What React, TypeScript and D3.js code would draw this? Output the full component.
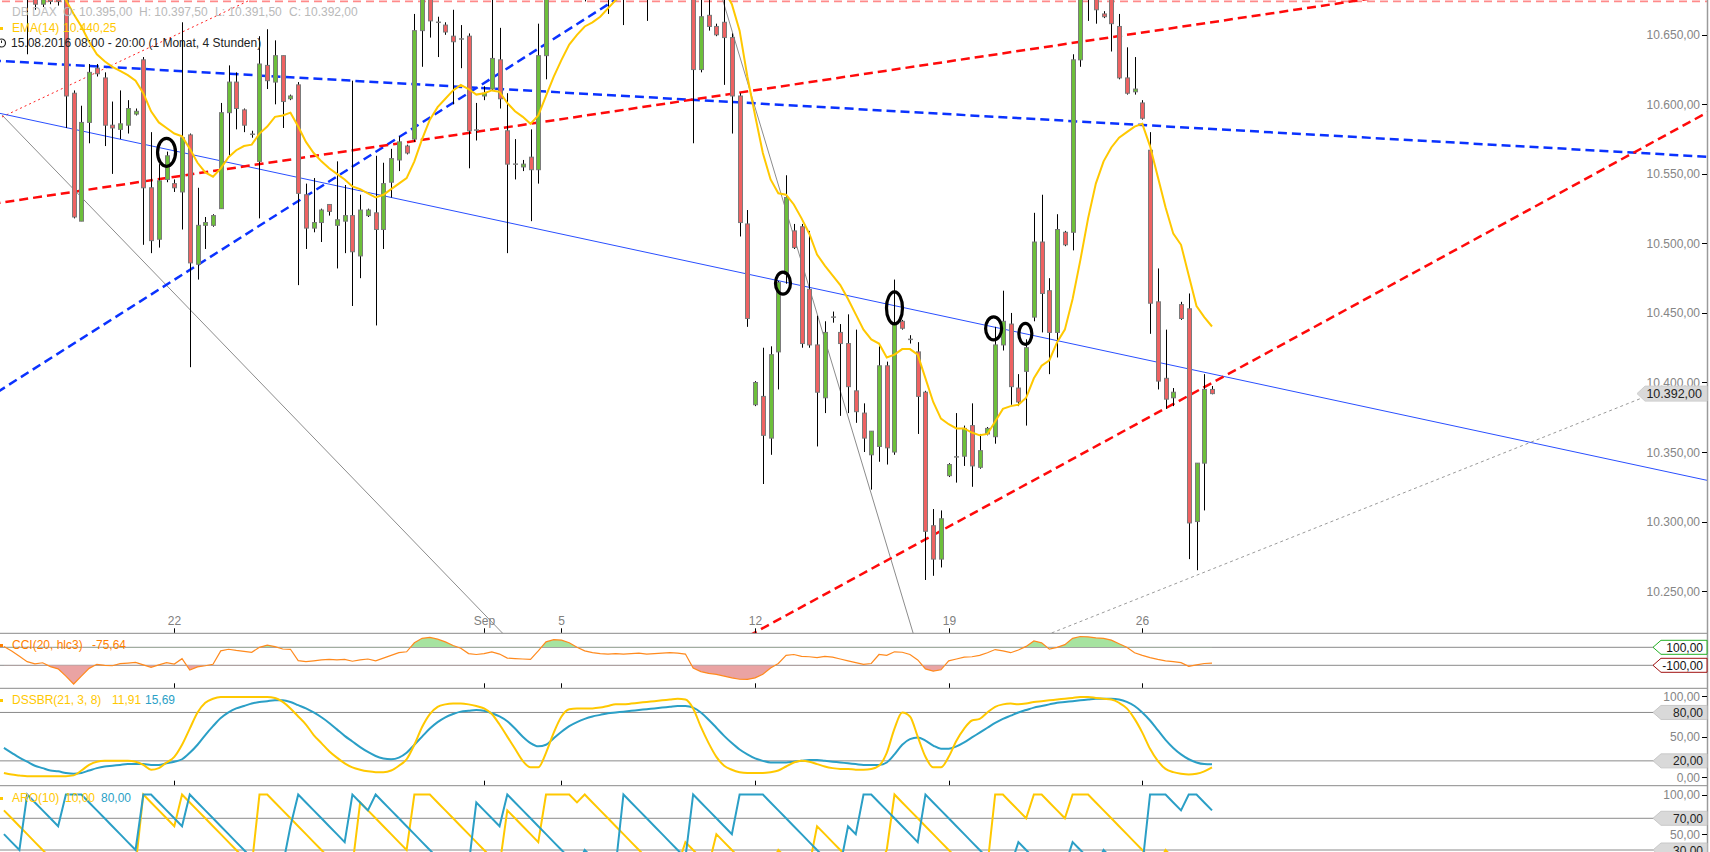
import React, { useEffect, useRef } from 'react';
import * as d3 from 'd3';

const W = 1710;
const H = 852;

// ---- candle data (4h bars, index 0 = first visible bar) ----
const opens = [10705,10700,10695,10690,10690,10672,10690,10688,10685,10608,10516,10587,10626,10619,10585,10582,10585,10593,10632,10540,10503,10546,10543,10537,10578,10485,10513,10513,10525,10594,10616,10596,10578.5,10559,10628,10616,10635,10604,10614,10535,10511,10515,10528,10513,10516,10520,10491,10520,10522,10510,10544,10560,10570,10575,10653,10680,10659,10657,10649,10647,10649,10582,10606,10611,10632,10581,10557,10555,10562,10553,10635,10690,10698,10705,10700,10708,10695,10702,10706,10690,10698,10685,10694,10700,10688,10695,10690,10696,10692,10688,10625,10664,10656,10659,10648,10606,10514,10384,10390,10360,10422,10478,10509,10512,10467,10427,10389,10447,10436,10428,10394,10378,10348,10354,10412,10350,10444,10431,10422,10393,10297,10273,10333,10346,10347,10369,10339,10363,10361,10427,10442,10396,10408,10447,10501,10466,10436,10508,10508,10632,10690,10685,10665,10685,10656,10619,10609,10601,10567,10458,10403,10389,10456,10453,10300,10342,10395];
const highs = [10715,10712,10705,10698,10700,10695,10698,10695,10692,10610,10599,10629,10629,10623,10602,10610,10603,10597,10634,10580,10557,10566,10546,10659,10579,10540,10519,10521,10601,10628,10623,10597,10581,10649,10654,10646,10635,10607,10616,10543,10547,10525,10528,10559,10542,10617,10535,10525,10563,10558,10568,10577,10571,10665,10685,10688,10663,10659,10668,10657,10651,10601,10613,10680,10655,10608,10575,10560,10582,10658,10700,10705,10712,10715,10712,10716,10710,10714,10712,10705,10706,10700,10708,10705,10700,10705,10702,10705,10700,10695,10690,10680,10658,10680,10651,10608,10524,10401,10425,10426,10473,10549,10514,10514,10509,10448,10444,10451,10442,10449,10438,10385,10365,10426,10415,10474,10445,10434,10429,10394,10309,10308,10342,10378,10369,10385,10363,10368,10440,10466,10450,10406,10431,10522,10535,10475,10521,10509,10636,10700,10705,10695,10667,10695,10665,10641,10634,10603,10580,10482,10438,10396,10458,10464,10342,10406,10397.5];
const lows = [10690,10688,10680,10636,10668,10670,10672,10671,10583,10518,10516,10572,10620,10570,10550,10575,10579,10592,10499,10493,10497,10544,10537,10510,10411,10474,10496,10512,10525,10563,10582,10580,10576,10518,10611,10600,10583,10603,10470,10496,10508,10501,10520,10482,10493,10455,10475,10519,10441,10496,10533,10552,10564,10573,10627,10648,10634,10650,10600,10626,10554,10574,10603,10610,10597,10493,10546,10552,10516,10543,10618,10680,10685,10690,10688,10674,10685,10690,10665,10680,10657,10678,10684,10660,10680,10682,10680,10685,10680,10572,10623,10653,10649,10614,10579,10505,10440,10383,10327,10348,10395,10471,10496,10425,10425,10354,10378,10443,10376,10378,10371,10350,10323,10343,10341,10348,10438,10428,10363,10258,10261,10267,10332,10328,10340,10325,10338,10362,10356,10423,10384,10383,10369,10444,10436,10406,10418,10498,10495,10627,10660,10658,10662,10638,10618,10607,10607,10589,10435,10395,10381,10383,10445,10273,10265,10308,10391.5];
const closes = [10700,10695,10690,10688,10672,10688,10674,10674,10606,10519,10587,10623,10622,10585,10583,10586,10597,10595,10540,10502,10545,10563,10540,10576,10486,10513,10515,10520,10594,10616,10597,10585,10578.5,10629,10617,10635,10602,10606,10536,10511,10515,10524,10523,10517,10520,10494,10524,10524,10510,10543,10561,10573,10565,10653,10680,10660,10659,10652,10645,10647,10581,10581,10608,10633,10604,10557,10557,10557,10553,10635,10690,10698,10705,10700,10708,10695,10702,10706,10690,10698,10685,10694,10700,10688,10695,10690,10696,10692,10688,10625,10663,10656,10650,10648,10606,10515,10446,10400,10362,10420,10472,10533,10497,10428,10427,10393,10436,10447,10428,10397,10379,10360,10365,10412,10353,10442,10439,10431,10390,10293,10273,10302,10341,10347,10367,10340,10351,10367,10427,10444,10397,10386,10425,10501,10464,10436,10510,10499,10632,10690,10695,10668,10663,10658,10619,10608,10611,10590,10457,10401,10388,10393,10446,10299,10342,10395,10392];

// EMA(14)
const emaValues = [10690,10690,10689,10689,10688,10688,10687,10686,10675,10665,10656,10645,10636,10631,10627,10624,10621,10617,10608,10595,10587,10583,10579,10577,10568,10558,10551,10548,10554,10562,10567,10570,10571,10579,10584,10591,10592,10594,10584,10573,10565,10559,10554,10550,10546,10541,10539,10536,10533,10535,10539,10543,10547,10559,10575,10589,10598,10604,10610,10614,10611,10607,10608,10610,10609,10601,10595,10591,10586,10592,10606,10620,10632,10643,10650,10656,10659,10663,10669,10675,10678,10681,10684,10686,10689,10692,10695,10697,10699,10700,10696,10693,10687,10682,10672,10653,10620,10592,10565,10546,10536,10535,10528,10518,10507,10492,10484,10477,10470,10460,10449,10438,10431,10428,10418,10420,10424,10424,10420,10403,10386,10374,10370,10367,10367,10364,10362,10363,10372,10381,10383,10384,10389,10403,10412,10416,10429,10438,10460,10488,10518,10543,10559,10569,10576,10580,10584,10586,10570,10548,10526,10507,10499,10477,10455,10447,10440.25];

// CCI(20, hlc3)
const cciValues = [110,60,0,-60,-85,-72,-115,-140,-220,-308,-220,-134,-89,-100,-105,-82,-75,-67,-95,-122,-95,-71,-86,-26,-152,-118,-105,-89,60,78,65,55,44,100,125,107,81,78,-49,
  -60,-50,-40,-35,-40,-35,-55,-40,-30,-50,-20,10,40,50,150,200,210,190,160,120,90,30,20,30,50,25,-20,-25,-30,-35,60,160,185,180,150,100,60,40,30,25,30,25,30,35,25,30,35,40,35,25,
  -130,-170,-190,-200,-220,-240,-255,-257,-240,-200,-130,-80,10,20,0,-5,-15,0,-10,-30,-50,-70,-90,-80,20,10,50,45,20,-40,-140,-165,-150,-50,-30,-10,-5,10,40,75,60,40,70,110,170,150,80,100,130,200,220,215,205,200,180,140,100,40,10,-15,-35,-50,-60,-70,-112,-95,-80,-75.64];

// DSSBR(21,3,8): main (yellow) and signal (blue)
const dssMain = [5,3,2,1,1,1,1,1,1,2,8,15,19,20,20,20,20,19,15,9,11,18,25,40,60,80,92,97,99,99,99,99,99,99,99,98,93,85,75,
  65,52,42,32,24,17,12,9,7,6,6,8,14,22,40,62,78,87,90,91,91,90,88,85,78,65,50,35,20,12,12,30,55,75,84,85,85,85,86,88,90,90,91,92,93,94,95,96,97,96,
  85,62,42,25,14,9,6,5,5,5,6,8,13,18,20,19,16,13,11,10,10,9,9,10,14,30,60,80,75,50,25,12,12,25,45,60,70,72,80,87,90,91,90,91,93,94,95,96,97,98,99,99,98,97,96,92,85,72,55,35,20,10,6,4,3,4,7,11.91];
const dssSignal = [36,30,24,19,14,11,8,7,5,4,5,8,11,13,14,15,16,16,16,15,15,17,19,22,30,40,52,63,73,80,85,88,91,93,94,95,95,93,89,
  85,80,74,67,59,51,44,37,31,26,23,22,24,30,40,50,60,68,74,78,81,82,83,82,79,75,69,60,50,42,38,40,48,56,63,68,72,75,77,79,80,81,82,83,84,85,86,87,88,88,
  86,80,71,61,51,42,34,28,23,20,18,18,18,19,20,21,21,20,19,18,17,16,15,15,15,18,28,40,47,49,45,39,35,35,38,43,49,55,61,67,72,76,80,83,86,88,90,92,93,94,95,96,97,97,97,96,93,88,80,70,58,46,36,28,22,18,16,15.69];

// ARO(10): up (yellow) and down (blue)
const aroonUp = [80,70,60,50,40,30,20,10,10,10,10,10,20,10,20,10,10,10,100,90,80,70,60,100,90,80,70,60,50,40,30,20,10,100,100,90,80,70,60,50,40,30,20,10,10,10,90,80,70,60,50,40,30,100,100,100,90,80,70,60,50,40,30,20,10,80,70,60,50,40,100,100,100,100,90,100,90,80,70,60,50,40,30,20,10,20,10,10,40,30,20,10,50,40,30,20,10,10,10,10,30,20,10,10,10,60,50,40,30,20,10,20,10,10,30,100,90,80,70,60,50,40,30,20,10,10,10,10,100,100,90,80,70,100,100,90,80,70,100,100,100,90,80,70,60,50,40,30,20,10,30,20,10,10,10,10,10];
const aroonDown = [50,40,30,100,90,80,70,60,100,100,100,90,80,70,60,50,40,30,100,100,90,80,70,60,100,90,80,70,60,50,40,30,20,10,10,10,10,60,100,90,80,70,60,50,40,100,90,80,100,90,80,70,60,50,40,30,20,10,10,10,10,90,80,70,60,100,90,80,70,60,50,40,30,20,10,30,20,10,10,10,100,90,80,70,60,50,40,30,20,100,90,80,70,60,50,100,100,100,100,90,80,70,60,50,40,30,20,10,10,60,50,100,100,90,80,70,60,50,40,100,90,80,70,60,50,40,30,20,10,10,10,40,30,20,10,10,20,10,40,30,20,10,30,20,10,10,20,10,100,100,100,90,80,100,100,90,80];

// ---- axis ticks ----
const priceTicks = [10250, 10300, 10350, 10400, 10450, 10500, 10550, 10600, 10650];
const dateTicks = [
  { i: 22, label: '22' },
  { i: 62, label: 'Sep' },
  { i: 72, label: '5' },
  { i: 97, label: '12' },
  { i: 122, label: '19' },
  { i: 147, label: '26' },
];

// ---- drawings (index / price anchors) ----
type TL = { i1: number; p1: number; i2: number; p2: number; extL: boolean; extR: boolean; color: string; width: number; dash: string | null };
const trendLines: TL[] = [
  { i1: 0, p1: 10674, i2: 200, p2: 10674, extL: true, extR: true, color: '#ff8a8a', width: 1.6, dash: '8,5' },
  { i1: -0.25, p1: 10592.3, i2: 64.0, p2: 10222.0, extL: false, extR: true, color: '#8c8c8c', width: 1, dash: null },
  { i1: 92.9, p1: 10673.6, i2: 117.4, p2: 10219.9, extL: true, extR: true, color: '#8c8c8c', width: 1, dash: null },
  { i1: -0.25, p1: 10590.9, i2: 31.78, p2: 10675, extL: false, extR: true, color: '#ff2020', width: 1, dash: '2,3' },
  { i1: -0.507, p1: 10593.5, i2: 220.3, p2: 10329.2, extL: false, extR: true, color: '#2a4fff', width: 1, dash: null },
  { i1: 135.3, p1: 10219.9, i2: 212.8, p2: 10391.7, extL: false, extR: false, color: '#9a9a9a', width: 1, dash: '3,3' },
  { i1: -0.507, p1: 10631.2, i2: 220.3, p2: 10562.2, extL: true, extR: true, color: '#0a32ff', width: 2.5, dash: '9,5' },
  { i1: -0.507, p1: 10394.3, i2: 78.9, p2: 10675, extL: true, extR: true, color: '#0a32ff', width: 2.5, dash: '9,5' },
  { i1: -0.507, p1: 10529.2, i2: 157.0, p2: 10659.9, extL: true, extR: true, color: '#ff0a0a', width: 2.5, dash: '9,5' },
  { i1: 96.86, p1: 10219.9, i2: 220.3, p2: 10595.2, extL: true, extR: true, color: '#ff0a0a', width: 2.5, dash: '9,5' },
];
const markers = [
  { i: 21, p: 10565.5, rx: 9, ry: 14 },
  { i: 100.6, p: 10471.4, rx: 7.5, ry: 11 },
  { i: 115, p: 10453.6, rx: 8, ry: 16 },
  { i: 127.8, p: 10438.9, rx: 8, ry: 11.5 },
  { i: 131.9, p: 10435, rx: 6.5, ry: 10.5 },
];

const FONT = 'Liberation Sans, Arial, sans-serif';

export default function App() {
  const ref = useRef<SVGSVGElement>(null);
  useEffect(() => {
    document.body.style.margin = '0';
    const svg = d3.select(ref.current);
    svg.selectAll('*').remove();

    const X0 = 3.93, STEP = 7.744;
    const AX = 1707; // right axis line
    const MAIN_BOTTOM = 633.3, CCI_BOTTOM = 688.3, DSS_BOTTOM = 785.7;
    const x = d3.scaleLinear().domain([0, 156]).range([X0, X0 + 156 * STEP]);
    const y = d3.scaleLinear().domain([10250, 10650]).range([591.1, 34.8]);
    const yC = d3.scaleLinear().domain([-100, 100]).range([665.3, 647.3]);
    const yD = d3.scaleLinear().domain([0, 100]).range([777, 696.3]);
    const yA = d3.scaleLinear().domain([0, 100]).range([873.8, 794.5]);

    const defs = svg.append('defs');
    const clip = (id: string, y0: number, h: number) =>
      defs.append('clipPath').attr('id', id).append('rect').attr('x', 0).attr('y', y0).attr('width', AX).attr('height', h);
    clip('clipMain', 0, MAIN_BOTTOM);
    clip('clipCci', MAIN_BOTTOM, CCI_BOTTOM - MAIN_BOTTOM);
    clip('clipCciUp', MAIN_BOTTOM, yC(100) - MAIN_BOTTOM);
    clip('clipCciDn', yC(-100), CCI_BOTTOM - yC(-100));
    clip('clipDss', CCI_BOTTOM, DSS_BOTTOM - CCI_BOTTOM);
    clip('clipAro', DSS_BOTTOM, H - DSS_BOTTOM);

    svg.append('rect').attr('width', W).attr('height', H).attr('fill', '#ffffff');

    // ---------- main panel ----------
    const main = svg.append('g').attr('clip-path', 'url(#clipMain)');

    trendLines.forEach((t) => {
      const xa = x(t.i1), ya = y(t.p1), xb = x(t.i2), yb = y(t.p2);
      const slope = (yb - ya) / (xb - xa);
      const sx = t.extL ? -50 : xa;
      const ex = t.extR ? AX + 50 : xb;
      const line = main.append('line')
        .attr('x1', sx).attr('y1', ya + (sx - xa) * slope)
        .attr('x2', ex).attr('y2', ya + (ex - xa) * slope)
        .attr('stroke', t.color).attr('stroke-width', t.width);
      if (t.dash) line.attr('stroke-dasharray', t.dash);
    });

    const n = closes.length;
    const cg = main.append('g');
    for (let i = 0; i < n; i++) {
      const cx = Math.round(x(i));
      const o = opens[i], c = closes[i];
      cg.append('line').attr('x1', cx + 0.5).attr('x2', cx + 0.5)
        .attr('y1', y(highs[i])).attr('y2', y(lows[i]))
        .attr('stroke', '#000').attr('stroke-width', 1);
      const top = y(Math.max(o, c)), bot = y(Math.min(o, c));
      const up = c >= o;
      if (bot - top < 1.5) {
        cg.append('line').attr('x1', cx - 2).attr('x2', cx + 3)
          .attr('y1', (top + bot) / 2).attr('y2', (top + bot) / 2)
          .attr('stroke', '#808080').attr('stroke-width', 1.5);
      } else {
        cg.append('rect').attr('x', cx - 1.5).attr('y', top).attr('width', 4).attr('height', bot - top)
          .attr('fill', up ? '#6cbf3a' : '#ee6262').attr('stroke', '#7b7b7b').attr('stroke-width', 1);
      }
    }

    main.append('path').datum(emaValues)
      .attr('d', d3.line<number>().x((_, i) => x(i)).y((d) => y(d)))
      .attr('fill', 'none').attr('stroke', '#ffc800').attr('stroke-width', 2);

    markers.forEach((m) => {
      main.append('ellipse').attr('cx', x(m.i)).attr('cy', y(m.p)).attr('rx', m.rx).attr('ry', m.ry)
        .attr('fill', 'none').attr('stroke', '#000').attr('stroke-width', 3.2);
    });

    // ---------- panel frames ----------
    const grid = svg.append('g');
    [MAIN_BOTTOM, CCI_BOTTOM, DSS_BOTTOM, yC(100), yC(-100), yD(80), yD(20), yA(70), yA(30)].forEach((yy) => {
      grid.append('line').attr('x1', 0).attr('x2', AX).attr('y1', yy).attr('y2', yy).attr('stroke', '#8a8a8a').attr('stroke-width', 1);
    });
    grid.append('line').attr('x1', AX + 0.5).attr('x2', AX + 0.5).attr('y1', 0).attr('y2', H).attr('stroke', '#9a9a9a').attr('stroke-width', 1.5);

    // ---------- CCI ----------
    const cg2 = svg.append('g').attr('clip-path', 'url(#clipCci)');
    const areaUp = d3.area<number>().x((_, i) => x(i)).y0(yC(100)).y1((d) => yC(d));
    const areaDn = d3.area<number>().x((_, i) => x(i)).y0(yC(-100)).y1((d) => yC(d));
    cg2.append('g').attr('clip-path', 'url(#clipCciUp)').append('path').datum(cciValues).attr('d', areaUp).attr('fill', '#a6e3a0');
    cg2.append('g').attr('clip-path', 'url(#clipCciDn)').append('path').datum(cciValues).attr('d', areaDn).attr('fill', '#eaa3a3');
    cg2.append('path').datum(cciValues).attr('d', d3.line<number>().x((_, i) => x(i)).y((d) => yC(d)))
      .attr('fill', 'none').attr('stroke', '#ff8a1e').attr('stroke-width', 1.2);

    // ---------- DSS ----------
    const dg = svg.append('g').attr('clip-path', 'url(#clipDss)');
    const dLine = d3.line<number>().x((_, i) => x(i)).y((d) => yD(d)).curve(d3.curveMonotoneX);
    dg.append('path').datum(dssSignal).attr('d', dLine).attr('fill', 'none').attr('stroke', '#2b9fc6').attr('stroke-width', 2);
    dg.append('path').datum(dssMain).attr('d', dLine).attr('fill', 'none').attr('stroke', '#ffc800').attr('stroke-width', 2);

    // ---------- Aroon ----------
    const ag = svg.append('g').attr('clip-path', 'url(#clipAro)');
    const aLine = d3.line<number>().x((_, i) => x(i)).y((d) => yA(d));
    ag.append('path').datum(aroonUp).attr('d', aLine).attr('fill', 'none').attr('stroke', '#ffc800').attr('stroke-width', 2);
    ag.append('path').datum(aroonDown).attr('d', aLine).attr('fill', 'none').attr('stroke', '#2b9fc6').attr('stroke-width', 2);

    // ---------- date ticks ----------
    const dt = svg.append('g');
    dateTicks.forEach((d) => {
      const xx = Math.round(x(d.i)) + 0.5;
      [MAIN_BOTTOM, CCI_BOTTOM, DSS_BOTTOM].forEach((b) => {
        dt.append('line').attr('x1', xx).attr('x2', xx).attr('y1', b - 5).attr('y2', b - 0.5).attr('stroke', '#000').attr('stroke-width', 1);
      });
      dt.append('text').attr('x', xx).attr('y', 625).attr('text-anchor', 'middle')
        .attr('font-family', FONT).attr('font-size', 12).attr('fill', '#808080').text(d.label);
    });

    // ---------- right axis ----------
    const fmt = (v: number) => {
      const s = d3.format(',.2f')(v);
      return s.replace(/,/g, 'X').replace('.', ',').replace(/X/g, '.').replace('−', '-');
    };
    const ax = svg.append('g');
    const axisLabel = (yy: number, txt: string) => {
      ax.append('line').attr('x1', AX - 5).attr('x2', AX).attr('y1', Math.round(yy) + 0.5).attr('y2', Math.round(yy) + 0.5).attr('stroke', '#000');
      ax.append('text').attr('x', AX - 7).attr('y', yy + 4.5).attr('text-anchor', 'end')
        .attr('font-family', FONT).attr('font-size', 12).attr('fill', '#858585').text(txt);
    };
    priceTicks.forEach((p) => axisLabel(y(p), fmt(p)));
    axisLabel(yD(100), fmt(100));
    axisLabel(yD(50), fmt(50));
    axisLabel(yD(0), fmt(0));
    axisLabel(yA(100), fmt(100));
    axisLabel(yA(50), fmt(50));

    const tagBox = (yy: number, txt: string, fill: string, stroke: string, color: string) => {
      const tip = 1653, l = 1661, r = AX, h = 7;
      ax.append('path')
        .attr('d', `M${tip},${yy} L${l},${yy - h} L${r},${yy - h} L${r},${yy + h} L${l},${yy + h} Z`)
        .attr('fill', fill).attr('stroke', stroke).attr('stroke-width', 1);
      ax.append('text').attr('x', AX - 4).attr('y', yy + 4.5).attr('text-anchor', 'end')
        .attr('font-family', FONT).attr('font-size', 12).attr('fill', color).text(txt);
    };
    tagBox(yC(100), fmt(100), '#ffffff', '#22b022', '#111');
    tagBox(yC(-100), fmt(-100), '#ffffff', '#a01010', '#111');
    tagBox(yD(80), fmt(80), '#d9d9d9', '#c8c8c8', '#222');
    tagBox(yD(20), fmt(20), '#d9d9d9', '#c8c8c8', '#222');
    tagBox(yA(70), fmt(70), '#d9d9d9', '#c8c8c8', '#222');
    tagBox(yA(30), fmt(30), '#d9d9d9', '#c8c8c8', '#222');
    {
      const yy = y(closes[n - 1]);
      const tip = 1637, l = 1645, r = AX, h = 7.5;
      ax.append('path')
        .attr('d', `M${tip},${yy} L${l},${yy - h} L${r},${yy - h} L${r},${yy + h} L${l},${yy + h} Z`)
        .attr('fill', '#d9d9d9').attr('stroke', '#cfcfcf');
      ax.append('text').attr('x', AX - 5).attr('y', yy + 4.5).attr('text-anchor', 'end')
        .attr('font-family', FONT).attr('font-size', 12.5).attr('fill', '#222').text(fmt(closes[n - 1]));
    }

    // ---------- legends ----------
    const lg = svg.append('g').attr('font-family', FONT).attr('font-size', 12);
    const txt = (xx: number, yy: number, color: string, s: string) =>
      lg.append('text').attr('x', xx).attr('y', yy).attr('fill', color).text(s);
    txt(12, 16, '#bdbdbd', 'DB DAX');
    txt(63, 16, '#b9b9b9', `O: ${fmt(opens[n - 1])}`);
    txt(139, 16, '#b9b9b9', `H: ${fmt(highs[n - 1])}`);
    txt(215, 16, '#b9b9b9', `L: ${fmt(lows[n - 1])}`);
    txt(289, 16, '#b9b9b9', `C: ${fmt(closes[n - 1])}`);
    lg.append('rect').attr('x', 0).attr('y', 27).attr('width', 3).attr('height', 3).attr('fill', '#ffc800');
    txt(12, 32, '#ffc800', 'EMA(14)');
    txt(63, 32, '#ffc800', fmt(emaValues[n - 1]));
    lg.append('circle').attr('cx', 1.5).attr('cy', 43).attr('r', 4).attr('fill', 'none').attr('stroke', '#222').attr('stroke-width', 1.2);
    lg.append('line').attr('x1', 1.5).attr('x2', 1.5).attr('y1', 40.5).attr('y2', 43).attr('stroke', '#222');
    txt(11, 47, '#222', '15.08.2016 08:00 - 20:00 (1 Monat, 4 Stunden)');

    lg.append('rect').attr('x', 0).attr('y', 644).attr('width', 3).attr('height', 3).attr('fill', '#ff7f00');
    txt(12, 649, '#ff7f00', 'CCI(20, hlc3)');
    txt(92, 649, '#ff7f00', '-75,64');

    lg.append('rect').attr('x', 0).attr('y', 699).attr('width', 3).attr('height', 3).attr('fill', '#ffc800');
    txt(12, 704, '#ffc800', 'DSSBR(21, 3, 8)');
    txt(112, 704, '#ffc800', '11,91');
    txt(145, 704, '#2b9fc6', '15,69');

    lg.append('rect').attr('x', 0).attr('y', 797).attr('width', 3).attr('height', 3).attr('fill', '#ffc800');
    txt(12, 802, '#ffc800', 'ARO(10)');
    txt(65, 802, '#ffc800', '10,00');
    txt(101, 802, '#2b9fc6', '80,00');
  }, []);
  return <svg ref={ref} width={W} height={H} style={{ display: 'block' }} />;
}
